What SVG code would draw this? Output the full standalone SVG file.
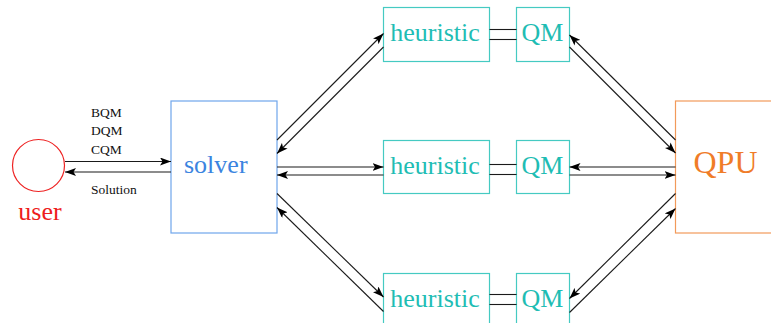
<svg xmlns="http://www.w3.org/2000/svg" width="771" height="323" viewBox="0 0 771 323">
<style>
.lbl{font-family:"Liberation Serif","DejaVu Serif",serif;}
.small{font-size:13.5px;fill:#111;}
.teal rect{fill:none;stroke:#45cac2;stroke-width:1.2;}
.teal text{fill:#1fbdb4;font-size:26px;text-anchor:middle;}
.conn line{stroke:#1a1a1a;stroke-width:1.1;}
.arr{marker-end:url(#ah);}
</style>
<defs>
<marker id="ah" markerUnits="userSpaceOnUse" markerWidth="11" markerHeight="8" refX="11" refY="4" orient="auto">
<path d="M0,0 L11,4 L0,8 L2.5,4 Z" fill="#000"/>
</marker>
</defs>
<rect width="771" height="323" fill="#fff"/>
<g id="user">
<circle cx="38.5" cy="165.5" r="26" fill="none" stroke="#ee2222" stroke-width="1.2"/>
<text class="lbl" x="40" y="220" font-size="26" fill="#ee1c1c" text-anchor="middle">user</text>
</g>
<g id="user-labels" class="lbl small">
<text x="91" y="116.5">BQM</text>
<text x="91" y="135">DQM</text>
<text x="91" y="153.5">CQM</text>
<text x="91" y="194">Solution</text>
</g>
<g id="solver">
<rect x="171" y="101" width="106" height="132" fill="none" stroke="#6fa6ec" stroke-width="1.2"/>
<text class="lbl" x="184" y="173" font-size="26" fill="#3b84e0">solver</text>
</g>
<g id="heuristic1" class="teal lbl">
<rect x="383.5" y="7.5" width="106" height="54"/>
<text x="435" y="41">heuristic</text>
</g>
<g id="qm1" class="teal lbl">
<rect x="516.5" y="7.5" width="53" height="54"/>
<text x="542.5" y="41">QM</text>
</g>
<g id="heuristic2" class="teal lbl">
<rect x="383.5" y="140.5" width="106" height="53"/>
<text x="435" y="173.5">heuristic</text>
</g>
<g id="qm2" class="teal lbl">
<rect x="516.5" y="140.5" width="53" height="53"/>
<text x="542.5" y="173.5">QM</text>
</g>
<g id="heuristic3" class="teal lbl">
<rect x="383.5" y="273.5" width="106" height="54"/>
<text x="435" y="306.5">heuristic</text>
</g>
<g id="qm3" class="teal lbl">
<rect x="516.5" y="273.5" width="53" height="54"/>
<text x="542.5" y="306.5">QM</text>
</g>
<g id="qpu">
<rect x="675.5" y="101" width="110" height="132" fill="none" stroke="#f29a5a" stroke-width="1.2"/>
<text class="lbl" x="725.5" y="173" font-size="32" fill="#f07c28" text-anchor="middle">QPU</text>
</g>
<g id="connectors" class="conn">
<line class="arr" x1="65" y1="161.5" x2="171" y2="161.5"/>
<line class="arr" x1="171" y1="172" x2="65" y2="172"/>
<line class="arr" x1="277" y1="140" x2="383.5" y2="33.5"/>
<line class="arr" x1="383.5" y1="47" x2="277" y2="153.5"/>
<line class="arr" x1="277" y1="167" x2="383.5" y2="167"/>
<line class="arr" x1="383.5" y1="175" x2="277" y2="175"/>
<line class="arr" x1="277" y1="193.5" x2="383.5" y2="297"/>
<line class="arr" x1="383.5" y1="311.5" x2="277" y2="207.5"/>
<line x1="489.5" y1="29.5" x2="516.5" y2="29.5"/>
<line x1="489.5" y1="39.5" x2="516.5" y2="39.5"/>
<line x1="489.5" y1="164.5" x2="516.5" y2="164.5"/>
<line x1="489.5" y1="174.5" x2="516.5" y2="174.5"/>
<line x1="489.5" y1="294.5" x2="516.5" y2="294.5"/>
<line x1="489.5" y1="304.5" x2="516.5" y2="304.5"/>
<line class="arr" x1="675.5" y1="140" x2="569.5" y2="35"/>
<line class="arr" x1="569.5" y1="47" x2="675.5" y2="153"/>
<line class="arr" x1="675.5" y1="167" x2="569.5" y2="167"/>
<line class="arr" x1="569.5" y1="175" x2="675.5" y2="175"/>
<line class="arr" x1="675.5" y1="193.5" x2="569.5" y2="298.5"/>
<line class="arr" x1="569.5" y1="312.5" x2="675.5" y2="208.5"/>
</g>
</svg>
